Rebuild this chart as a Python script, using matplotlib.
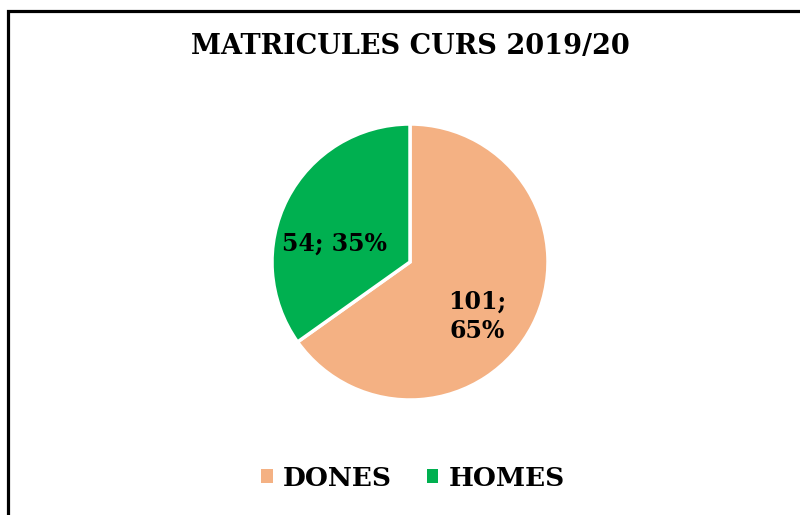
import matplotlib.pyplot as plt
from matplotlib.patches import Patch, Rectangle

# enrolment 2019/20
labels = ['DONES', 'HOMES']
counts = [101, 54]
colors = ['#F4B183', '#00B050']

total = sum(counts)
texts = []
for c in counts:
    pct = round(100 * c / total)
    if c >= 100:
        texts.append(f'{c};\n{pct}%')
    else:
        texts.append(f'{c}; {pct}%')

W, H = 800, 515
fig = plt.figure(figsize=(8, 5.15), dpi=100)

# pie centred at (410, 262) px, radius 138 px
cx, cy, r = 410, 262, 138
ax = fig.add_axes([(cx - r) / W, (H - cy - r) / H, 2 * r / W, 2 * r / H])
wedges, _, autotexts = ax.pie(counts, colors=colors, startangle=90, counterclock=False,
                              autopct='%1.0f', pctdistance=0.58,
                              wedgeprops=dict(edgecolor='white', linewidth=2.5))
for t, s in zip(autotexts, texts):
    x, y = t.get_position()
    t.set_position((x - 0.03, y - 0.13))  # excel sits the labels a bit lower
    t.set_text(s)
    t.set_fontsize(17)
    t.set_fontweight('bold')
    t.set_family('DejaVu Serif')
    t.set_linespacing(1.3)
ax.set_xlim(-1, 1)
ax.set_ylim(-1, 1)

fig.text(cx / W, 1 - 47 / H, 'MATRICULES CURS 2019/20', ha='center', va='center',
         fontsize=19.5, fontweight='bold', family='DejaVu Serif')

handles = [Patch(facecolor=c, label=l) for c, l in zip(colors, labels)]
fig.legend(handles=handles, loc='center', bbox_to_anchor=((cx + 3) / W, 1 - 478 / H), ncol=2,
           frameon=False, handlelength=0.45, handleheight=0.45, handletextpad=0.4,
           columnspacing=1.3, prop=dict(family='DejaVu Serif', weight='bold', size=19))

# outer frame (right and bottom edges run off the image)
fig.patches.append(Rectangle((8 / W, -0.1), 1.2, 1 - 11 / H + 0.1, transform=fig.transFigure,
                             fill=False, edgecolor='black', linewidth=2.3))

fig.savefig('out.png', dpi=100)
